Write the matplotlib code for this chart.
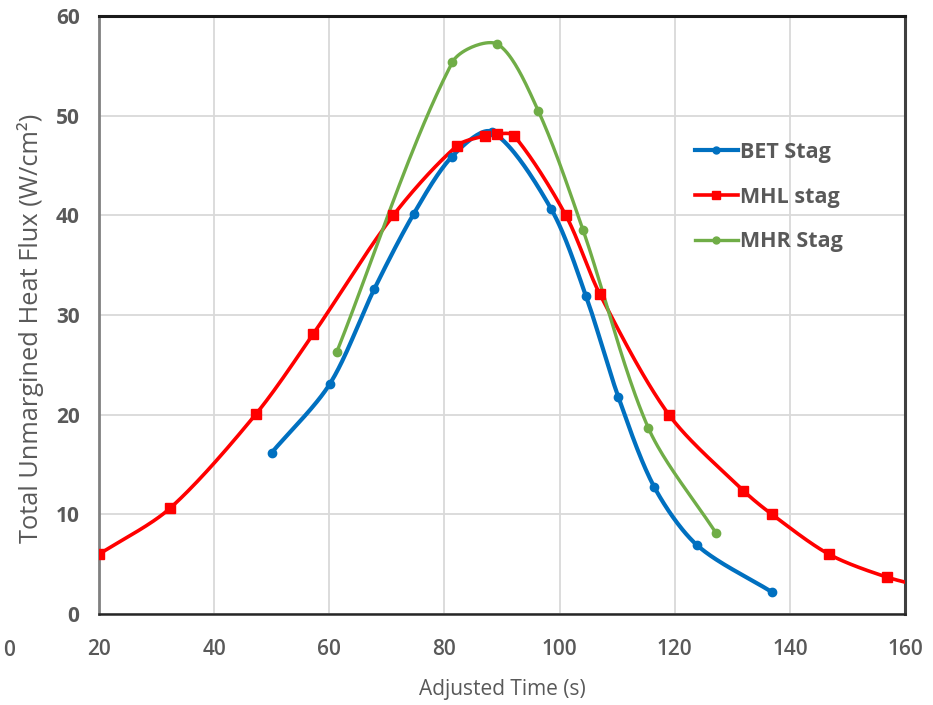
import matplotlib
matplotlib.use("Agg")
import matplotlib.pyplot as plt
from matplotlib.lines import Line2D
import numpy as np

# values
bet_x = [50.0, 60.1, 67.8, 74.7, 81.3, 88.2, 98.5, 104.6, 110.2, 116.4, 123.9, 136.9]
bet_y = [16.2, 23.1, 32.6, 40.2, 45.9, 48.4, 40.7, 31.9, 21.8, 12.8, 6.9, 2.2]

mhl_x = [20.0, 32.3, 47.3, 57.2, 71.1, 82.2, 87.0, 89.1, 92.1, 101.1, 107.0, 119.0, 131.9, 136.9, 146.8, 156.9, 166.0]
mhl_y = [6.0, 10.6, 20.1, 28.1, 40.0, 47.0, 48.0, 48.2, 48.0, 40.0, 32.1, 20.0, 12.4, 10.0, 6.0, 3.7, 2.4]

mhr_x = [61.3, 81.4, 89.2, 96.3, 104.1, 115.4, 127.2]
mhr_y = [26.3, 55.4, 57.2, 50.5, 38.5, 18.7, 8.1]

x_ticks = [20, 40, 60, 80, 100, 120, 140, 160]
y_ticks = [0, 10, 20, 30, 40, 50, 60]

grey_txt = '#595959'

# rough pixel per unit, only used to weight the smoothing
SX, SY = 5.76, 9.95


def smooth(xs, ys, n=40):
    # bezier through the points, tangents weighted by segment length
    p = np.column_stack([xs, ys]).astype(float)
    q = p * [SX, SY]
    m = len(p)
    out = []
    for i in range(m - 1):
        p1, p2 = p[i], p[i + 1]
        p0 = p[i - 1] if i > 0 else p1
        p3 = p[i + 2] if i + 2 < m else p2
        d12 = np.linalg.norm(q[i + 1] - q[i])
        d01 = np.linalg.norm(q[i] - q[i - 1]) if i > 0 else 0.0
        d23 = np.linalg.norm(q[i + 2] - q[i + 1]) if i + 2 < m else 0.0
        c1 = p1 + (p2 - p0) * (d12 / (d01 + d12)) / 3.0 * 0.9
        c2 = p2 - (p3 - p1) * (d12 / (d12 + d23)) / 3.0 * 0.9
        t = np.linspace(0, 1, n)[:, None]
        seg = ((1 - t) ** 3) * p1 + 3 * ((1 - t) ** 2) * t * c1 + 3 * (1 - t) * t ** 2 * c2 + t ** 3 * p2
        out.append(seg)
    seg = np.vstack(out)
    return seg[:, 0], seg[:, 1]


plt.rcParams['font.family'] = ['Open Sans', 'DejaVu Sans']

fig = plt.figure(figsize=(9.33, 7.05), dpi=100)
ax = fig.add_axes([0.1061, 0.129, 0.8639, 0.848])

series = [
    (bet_x, bet_y, '#0070C0', 'o', 6, 3.0, 'BET Stag'),
    (mhl_x, mhl_y, '#FF0000', 's', 7, 2.6, 'MHL stag'),
    (mhr_x, mhr_y, '#70AD47', 'o', 6, 2.4, 'MHR Stag'),
]
handles = []
for xs, ys, col, mk, ms, lw, lab in series:
    sx, sy = smooth(xs, ys)
    ax.plot(sx, sy, color=col, lw=lw, zorder=3)
    ax.plot(xs, ys, ls='none', marker=mk, ms=ms, color=col, zorder=4)
    handles.append(Line2D([0], [0], color=col, lw=lw, marker=mk, ms=ms - 1, label=lab))

ax.set_xlim(20, 160)
ax.set_ylim(0, 60)
ax.set_xticks(x_ticks)
ax.set_yticks(y_ticks)
ax.grid(True, color='#D9D9D9', lw=1.3)
ax.set_axisbelow(True)
ax.tick_params(length=0)
for lbl in ax.get_yticklabels():
    lbl.set_fontsize(15)
    lbl.set_fontweight('bold')
    lbl.set_color(grey_txt)
for lbl in ax.get_xticklabels():
    lbl.set_fontsize(15)
    lbl.set_color(grey_txt)
    lbl.set_fontweight('semibold')
ax.tick_params(axis='y', pad=14)
ax.tick_params(axis='x', pad=18)

ax.spines['left'].set_color('#808080')
ax.spines['left'].set_linewidth(2)
ax.spines['bottom'].set_color('#262626')
ax.spines['bottom'].set_linewidth(1.8)
ax.spines['top'].set_color('#1a1a1a')
ax.spines['top'].set_linewidth(2.2)
ax.spines['right'].set_color('#404040')
ax.spines['right'].set_linewidth(2.2)

ax.set_xlabel('Adjusted Time (s)', fontsize=15, color=grey_txt, labelpad=14)
fig.text(0.033, 0.534, 'Total Unmargined Heat Flux (W/cm\u00b2)', rotation=90,
         ha='center', va='center', fontsize=18.3, color=grey_txt)
fig.text(0.003, 0.078, '0', fontsize=15, color=grey_txt, fontweight='semibold',
         ha='left', va='center')

ax.legend(handles=handles, loc='upper left', bbox_to_anchor=(0.715, 0.822),
          frameon=False, handlelength=2.0, handletextpad=0.1,
          labelspacing=1.1, labelcolor=grey_txt, prop={'weight': 'bold', 'size': 15.5})

plt.savefig('out.png', dpi=100)
